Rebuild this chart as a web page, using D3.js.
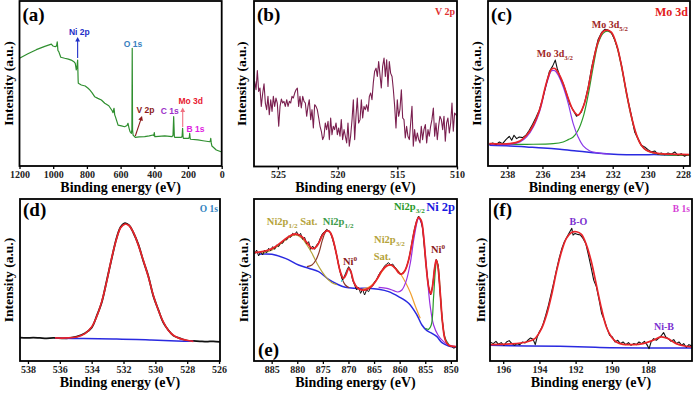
<!DOCTYPE html>
<html>
<head>
<meta charset="utf-8">
<script src="https://cdn.jsdelivr.net/npm/d3@7/dist/d3.min.js"></script>
<style>
body { margin: 0; background: #fff; }
text { font-family: "Liberation Serif", "Times New Roman", serif; font-weight: bold; }
text.sans { font-family: "Liberation Sans", Arial, sans-serif; font-weight: bold; }
</style>
</head>
<body>
<div id="chart"></div>
<script>
// ---- data: [binding energy (eV), intensity (a.u.)] ----

// (a) survey
var surveyData = [[1200,65.3],[1150,68],[1100,70.5],[1050,72.5],[1011,73.9],[1001,72.7],[988,72.3],[980,72.8],[976,75.2],[972,70],[967,69.3],[955,65.9],[932,65.3],[910,64.8],[893,64.2],[875,63],[869,62.2],[863,58.2],[858,61],[855,64.2],[852,52],[851,50.1],[833,49.1],[810,48.5],[793,47.1],[783,46.1],[770,44.5],[754,42],[735,41],[714,40],[694,38],[670,36.5],[650,33.5],[645,32.3],[639,35],[635,31],[631,29.9],[615,24.8],[595,24.3],[576,23.8],[562,24.5],[556,25.9],[550,23],[544,20.8],[536,19.8],[533,22],[531,71.3],[529,22],[526,18.8],[513,17.4],[490,17.6],[457,17.8],[430,18.3],[408,18.8],[403,18.4],[400,20.2],[397,17.8],[394,17.8],[338,18.2],[295,17.8],[289,18.5],[285,29.9],[281,17.8],[279,17.4],[240,17.4],[235,18],[232,22.8],[229,17.2],[226,16.8],[196,16.8],[192,17.5],[190,19.8],[187,16.5],[184,16.2],[141,15.8],[111,15.3],[71,14.7],[67,15.5],[65,16.8],[62,14],[58,12.1],[32,9.7],[0,8.5]];
var surveyTicks = [1200, 1000, 800, 600, 400, 200, 0];

// (b) V 2p
var vData = [[526.94,256],[526.83,231],[526.72,289],[526.61,226],[526.50,236],[526.39,181],[526.27,221],[526.16,249],[526.05,191],[525.94,171],
[525.83,211],[525.72,156],[525.60,201],[525.49,166],[525.38,211],[525.27,181],[525.16,206],[525.05,191],[524.93,121],[524.82,181],
[524.71,203],[524.60,191],[524.49,196],[524.38,181],[524.26,201],[524.15,181],[524.04,196],[523.93,191],[523.82,211],[523.71,206],
[523.59,221],[523.48,231],[523.37,236],[523.26,181],[523.15,211],[523.04,176],[522.92,211],[522.81,196],[522.70,191],[522.59,151],
[522.48,181],[522.37,201],[522.25,141],[522.14,171],[522.03,116],[521.92,186],[521.81,181],[521.70,171],[521.58,146],[521.47,121],
[521.36,106],[521.25,81],[521.14,91],[521.03,131],[520.92,111],[520.80,136],[520.69,81],[520.58,146],[520.47,96],[520.36,121],
[520.25,111],[520.13,131],[520.02,96],[519.91,116],[519.80,91],[519.69,141],[519.58,81],[519.46,111],[519.35,91],[519.24,71],
[519.13,131],[519.02,61],[518.91,91],[518.79,141],[518.68,201],[518.57,81],[518.46,151],[518.35,206],[518.24,131],[518.12,141],
[518.01,201],[517.90,146],[517.79,181],[517.68,171],[517.57,186],[517.45,166],[517.34,211],[517.23,221],[517.12,201],[517.01,251],
[516.90,286],[516.78,296],[516.67,271],[516.56,316],[516.45,276],[516.34,236],[516.23,301],[516.11,326],[516.00,271],[515.89,321],
[515.78,241],[515.67,316],[515.56,281],[515.44,271],[515.33,231],[515.22,181],[515.11,116],[515.00,201],[514.89,151],[514.78,171],
[514.66,231],[514.55,146],[514.44,141],[514.33,86],[514.22,121],[514.11,91],[513.99,81],[513.88,131],[513.77,181],[513.66,61],
[513.55,111],[513.44,76],[513.32,101],[513.21,81],[513.10,71],[512.99,121],[512.88,81],[512.77,111],[512.65,126],[512.54,71],
[512.43,111],[512.32,91],[512.21,121],[512.10,141],[511.98,176],[511.87,91],[511.76,131],[511.65,81],[511.54,121],[511.43,151],
[511.31,141],[511.20,111],[511.09,151],[510.98,76],[510.87,131],[510.76,146],[510.64,101],[510.53,131],[510.42,191],[510.31,106],
[510.20,161],[510.09,156],[510.00,151]];
var vTicks = [525, 520, 515, 510];

// (c) Mo 3d
var moData = [[239.02,65],[238.83,69],[238.64,64],[238.45,72],[238.27,67],[238.08,79],[237.89,89],[237.75,77],[237.62,92],[237.47,82],[237.32,87],[237.13,85],[236.94,92],[236.75,107],[236.56,125],[236.37,145],[236.18,167],[235.99,202],[235.80,242],[235.61,282],[235.42,299],[235.27,317],[235.16,292],[235.01,269],[234.82,247],[234.63,217],[234.44,185],[234.25,167],[234.06,149],[233.91,155],[233.78,162],[233.59,192],[233.40,235],[233.21,292],[233.02,337],[232.83,379],[232.64,399],[232.45,409],[232.26,407],[232.07,399],[231.88,377],[231.69,347],[231.50,302],[231.31,247],[231.13,197],[230.94,152],[230.75,102],[230.56,82],[230.37,62],[230.18,57],[229.99,49],[229.80,42],[229.61,45],[229.42,35],[229.23,39],[229.04,34],[228.85,39],[228.66,35],[228.47,42],[228.28,32],[228.10,37],[227.91,29],[227.72,35]];
var moFit = [[239.02,67],[237.85,67],[237.28,75],[236.90,92],[236.52,122],[236.14,172],[235.86,232],[235.67,267],[235.48,290],[235.29,292],[235.10,279],[234.82,247],[234.53,202],[234.25,167],[233.97,152],[233.68,177],[233.40,232],[233.11,312],[232.83,372],[232.55,402],[232.32,407],[232.07,400],[231.79,365],[231.50,300],[231.22,220],[230.94,149],[230.65,94],[230.37,62],[230.08,47],[229.70,40],[229.33,37],[228.38,35],[227.62,34]];
var mo32 = [[239.02,65],[237.85,65],[237.28,72],[236.90,87],[236.52,117],[236.14,167],[235.86,227],[235.67,262],[235.48,285],[235.29,285],[235.10,272],[234.82,237],[234.53,187],[234.25,127],[233.97,87],[233.68,60],[233.30,45],[232.92,40],[232.55,37],[232.17,36]];
var mo52 = [[239.02,65],[236.90,65],[235.39,67],[234.82,72],[234.53,79],[234.25,87],[233.97,107],[233.68,147],[233.40,212],[233.11,297],[232.83,367],[232.55,397],[232.32,404],[232.07,397],[231.79,362],[231.50,297],[231.22,217],[230.94,147],[230.65,92],[230.37,62],[230.08,47],[229.70,39],[229.33,35],[227.62,32]];
var moBg = [[239.02,62],[237.85,60],[236.90,57],[235.95,54],[235.01,50],[234.06,45],[233.11,40],[232.17,36],[231.22,34],[230.27,34],[229.33,34],[228.38,33],[227.62,32]];
var moTicks = [238, 236, 234, 232, 230, 228];

// (d) O 1s
var oData = [[538.50,70],[538.08,69],[537.67,70],[537.25,69],[536.83,68],[536.41,69],[535.57,68],[534.94,73],[534.42,83],[534.00,100],[533.69,134],[533.37,175],[533.06,239],[532.75,305],[532.43,369],[532.18,401],[531.91,413],[531.64,406],[531.38,384],[531.07,349],[530.76,300],[530.44,254],[530.13,195],[529.81,153],[529.50,115],[529.19,93],[528.87,76],[528.45,68],[528.03,61],[527.61,60],[527.20,59],[526.78,58],[526.36,59],[525.94,57]];
var oFit = [[536.30,69],[535.57,69],[534.94,72],[534.42,82],[534.00,102],[533.69,132],[533.37,177],[533.06,237],[532.75,307],[532.43,367],[532.18,399],[531.91,410],[531.64,405],[531.38,385],[531.07,347],[530.76,302],[530.44,252],[530.13,197],[529.81,152],[529.50,117],[529.19,92],[528.87,77],[528.45,67],[528.03,62],[527.61,59]];
var oBg = [[536.30,69],[534.52,67],[532.43,66],[530.34,63],[528.66,60],[527.61,59]];
var oTicks = [538, 536, 534, 532, 530, 528, 526];

// (e) Ni 2p
var niData = [[888.33,321],[887.94,333],[887.55,315],[887.16,328],[886.77,318],[886.38,333],[885.99,325],[885.59,338],[885.20,331],[884.81,343],[884.42,335],[884.03,348],[883.64,343],[883.25,355],[882.86,353],[882.47,365],[882.08,363],[881.69,375],[881.30,371],[880.91,383],[880.52,378],[880.13,388],[879.74,375],[879.35,383],[878.95,365],[878.56,371],[878.17,351],[877.78,358],[877.39,335],[877.00,345],[876.61,335],[876.22,348],[875.83,355],[875.44,371],[875.05,383],[874.66,388],[874.27,395],[873.88,391],[873.49,383],[873.10,365],[872.71,343],[872.31,318],[871.92,288],[871.53,263],[871.14,243],[870.75,255],[870.36,268],[869.97,283],[869.58,273],[869.19,243],[868.80,228],[868.41,213],[868.02,221],[867.63,203],[867.24,215],[866.85,198],[866.46,213],[866.06,208],[865.67,221],[865.28,225],[864.89,238],[864.50,245],[864.11,258],[863.72,268],[863.33,275],[862.94,285],[862.55,291],[862.16,295],[861.77,288],[861.38,291],[860.99,283],[860.60,275],[860.21,268],[859.82,258],[859.42,265],[859.03,268],[858.64,283],[858.25,303],[857.86,333],[857.47,368],[857.08,398],[856.69,421],[856.30,435],[855.91,425],[855.52,398],[855.13,333],[854.74,273],[854.35,223],[853.96,198],[853.57,225],[853.18,278],[852.85,305],[852.52,288],[852.13,213],[851.74,133],[851.35,78],[850.96,58],[850.57,48],[850.18,45],[849.79,43],[849.40,38],[849.01,43]];
var niFit = [[888.33,325],[886.90,328],[885.59,333],[884.29,343],[882.99,358],[881.69,373],[880.39,381],[879.09,373],[878.11,355],[877.13,338],[876.48,340],[875.83,353],[875.05,378],[874.20,391],[873.55,385],[872.90,358],[872.25,313],[871.60,268],[870.95,248],[870.43,261],[869.97,278],[869.52,268],[869.00,238],[868.34,221],[867.37,213],[866.39,215],[865.41,225],[864.44,245],[863.46,271],[862.48,286],[861.64,288],[860.86,278],[860.08,263],[859.56,261],[858.90,273],[858.25,303],[857.60,353],[856.95,403],[856.30,431],[855.78,421],[855.32,373],[854.87,293],[854.35,223],[853.89,201],[853.50,233],[853.18,278],[852.85,303],[852.52,283],[852.07,203],[851.61,113],[851.09,63],[850.44,48],[849.01,43]];
var niBg = [[887.55,320],[886.90,321],[884.94,320],[882.34,308],[879.74,288],[877.78,278],[875.83,268],[873.88,245],[872.25,231],[870.62,221],[868.67,218],[866.06,218],[864.11,215],[862.16,208],[860.21,193],[858.25,173],[856.63,138],[855.65,108],[854.67,91],[853.69,83],[852.72,73],[851.74,55],[850.44,45],[849.01,41]];
var niSat12 = [[886.90,323],[884.94,333],[882.99,355],[881.69,370],[880.39,378],[879.09,368],[878.11,348],[877.13,323],[876.16,293],[875.18,268],[874.20,248],[873.23,235],[872.25,229]];
var niP12 = [[878.11,283],[877.13,288],[876.35,303],[875.70,328],[875.05,365],[874.40,388],[873.88,391],[873.23,375],[872.58,338],[871.92,288],[871.27,248],[870.62,228],[869.84,220]];
var niMetal1 = [[871.40,238],[870.75,255],[870.10,278],[869.58,268],[869.00,238],[868.34,221]];
var niSat32 = [[867.37,215],[866.06,221],[864.76,238],[863.46,268],[862.48,285],[861.64,287],[860.73,278],[859.69,258],[858.77,233],[857.86,203],[856.95,165],[855.98,128]];
var niP32 = [[864.11,221],[862.48,218],[861.18,211],[860.34,207],[859.56,213],[858.77,238],[857.93,293],[857.15,373],[856.30,428],[855.65,408],[855.13,343],[854.61,253],[854.02,163],[853.37,108],[852.52,78],[851.42,58],[850.12,46],[849.01,43]];
var niMetal2 = [[855.00,98],[854.35,95],[853.83,108],[853.37,193],[853.05,268],[852.79,301],[852.46,283],[852.07,203],[851.61,113],[851.09,68],[850.44,51]];
var niTicks = [885, 880, 875, 870, 865, 860, 855, 850];

// (f) B 1s
var bData = [[196.73,57],[196.55,52],[196.40,59],[196.26,50],[196.11,55],[195.96,47],[195.82,57],[195.67,61],[195.52,52],[195.37,47],[195.23,52],[195.08,49],[194.93,57],[194.79,54],[194.64,62],[194.49,69],[194.35,65],[194.23,49],[194.12,72],[194.01,87],[193.90,97],[193.79,112],[193.65,137],[193.50,167],[193.35,202],[193.20,237],[193.06,272],[192.91,307],[192.76,337],[192.62,357],[192.47,372],[192.32,387],[192.21,397],[192.14,377],[192.03,382],[191.88,379],[191.73,377],[191.59,367],[191.44,352],[191.29,317],[191.15,282],[191.00,242],[190.85,222],[190.70,182],[190.56,142],[190.41,122],[190.26,97],[190.12,77],[189.97,72],[189.82,57],[189.67,62],[189.53,52],[189.38,57],[189.23,49],[189.08,55],[188.94,47],[188.79,52],[188.64,49],[188.50,57],[188.35,52],[188.20,59],[188.06,49],[187.94,37],[187.83,57],[187.69,67],[187.54,62],[187.39,69],[187.25,77],[187.14,85],[187.02,72],[186.88,67],[186.73,59],[186.58,64],[186.44,52],[186.29,57],[186.14,47],[186.03,52],[185.89,41],[185.74,49],[185.57,45]];
var bFit = [[196.73,49],[195.63,51],[194.71,57],[194.25,67],[193.88,97],[193.61,137],[193.33,197],[193.06,267],[192.78,327],[192.51,367],[192.23,385],[191.95,387],[191.68,379],[191.40,347],[191.13,297],[190.85,227],[190.57,157],[190.30,102],[190.02,72],[189.75,57],[189.38,50],[188.83,49],[188.28,52],[187.72,62],[187.27,72],[186.90,67],[186.44,52],[185.98,45],[185.57,42]];
var bBg = [[196.73,47],[194.71,45],[192.87,44],[191.40,42],[190.11,40],[188.28,39],[185.57,39]];
var bTicks = [196, 194, 192, 190, 188];

// ---- drawing ----
var svg = d3.select("#chart").append("svg")
    .attr("width", 696)
    .attr("height", 393);

var lineLayer = svg.append("g");
var topLayer = svg.append("g");

function makePanel(id, l, r, t, b, xd, yd, ticks, yLabX, titleY) {
    var x = d3.scaleLinear().domain(xd).range([l, r]);
    var y = d3.scaleLinear().domain(yd).range([b, t]);

    svg.append("clipPath").attr("id", "clip-" + id)
      .append("rect")
        .attr("x", l).attr("y", t)
        .attr("width", r - l).attr("height", b - t);

    var g = lineLayer.append("g").attr("clip-path", "url(#clip-" + id + ")");

    var ax = topLayer.append("g")
        .attr("transform", "translate(0," + b + ")")
        .call(d3.axisBottom(x).tickValues(ticks).tickFormat(d3.format("d"))
            .tickSize(3).tickSizeOuter(0).tickPadding(1.5));
    ax.select(".domain").remove();
    ax.selectAll("line").attr("stroke", "#000").attr("stroke-width", 1.3);
    ax.selectAll("text")
        .attr("font-size", 10)
        .attr("fill", "#222")
        .style("font-family", "'Liberation Serif', serif")
        .style("font-weight", "bold");

    topLayer.append("rect")
        .attr("x", l).attr("y", t)
        .attr("width", r - l).attr("height", b - t)
        .attr("fill", "none")
        .attr("stroke", "#000")
        .attr("stroke-width", 1.8);

    topLayer.append("text")
        .attr("x", (l + r) / 2).attr("y", titleY)
        .attr("text-anchor", "middle")
        .attr("font-size", 14)
        .text("Binding energy (eV)");

    topLayer.append("text")
        .attr("transform", "translate(" + yLabX + "," + (t + b) / 2 + ") rotate(-90)")
        .attr("text-anchor", "middle")
        .attr("font-size", 13.5)
        .text("Intensity (a.u.)");

    return {x: x, y: y, g: g, l: l, r: r, t: t, b: b};
}

function plotLine(P, data, color, w, smooth) {
    P.g.append("path")
        .datum(data)
        .attr("fill", "none")
        .attr("stroke", color)
        .attr("stroke-width", w)
        .attr("stroke-linejoin", "round")
        .attr("d", d3.line()
            .curve(smooth ? d3.curveCatmullRom : d3.curveLinear)
            .x(function(d) { return P.x(d[0]); })
            .y(function(d) { return P.y(d[1]); })
        );
}

// label made of parts: [text, "" | "sub" | "sup"]
function label(px, py, parts, color, size, anchor, cls) {
    var t = topLayer.append("text")
        .attr("x", px).attr("y", py)
        .attr("fill", color)
        .attr("font-size", size)
        .attr("text-anchor", anchor || "middle");
    if (cls) t.attr("class", cls);
    var shift = 0;
    parts.forEach(function(s) {
        var ts = t.append("tspan").text(s[0]);
        var target = s[1] == "sub" ? size * 0.3 : (s[1] == "sup" ? -size * 0.4 : 0);
        if (target != shift) ts.attr("dy", target - shift);
        if (s[1]) ts.attr("font-size", size * 0.68);
        shift = target;
    });
    return t;
}

function panelLetter(P, txt, dy) {
    topLayer.append("text")
        .attr("x", P.l + 3).attr("y", dy)
        .attr("font-size", 19)
        .text(txt);
}

function corner(P, txt, color, size, dy) {
    label(P.r - 2, P.t + dy, [[txt, ""]], color, size, "end");
}

function arrow(P, be0, v0, be1, v1, color) {
    var x0 = P.x(be0), y0 = P.y(v0), x1 = P.x(be1), y1 = P.y(v1);
    var a = Math.atan2(y1 - y0, x1 - x0), h = 4.5, s = 2.4;
    topLayer.append("line")
        .attr("x1", x0).attr("y1", y0)
        .attr("x2", x1 - Math.cos(a) * h * 0.8).attr("y2", y1 - Math.sin(a) * h * 0.8)
        .attr("stroke", color).attr("stroke-width", 1.1);
    var bx = x1 - Math.cos(a) * h, by = y1 - Math.sin(a) * h;
    topLayer.append("path")
        .attr("d", "M" + x1 + "," + y1 +
            "L" + (bx - Math.sin(a) * s) + "," + (by + Math.cos(a) * s) +
            "L" + (bx + Math.sin(a) * s) + "," + (by - Math.cos(a) * s) + "Z")
        .attr("fill", color);
}

// (a)
var A = makePanel("a", 19.5, 221.7, 1, 166, [1200, 0], [0, 100], surveyTicks, 13, 192);
plotLine(A, surveyData, "#2f8f2f", 1.2, false);
panelLetter(A, "(a)", 21);
label(A.x(845), A.y(79.4), [["Ni 2p", ""]], "#1f2fc8", 8.5, "middle", "sans");
arrow(A, 855, 65.5, 855, 78.2, "#1f2fc8");
label(A.x(526), A.y(72.1), [["O 1s", ""]], "#3a7fc0", 8.5, "middle", "sans");
label(A.x(453), A.y(32.1), [["V 2p", ""]], "#8b1a1a", 8.5, "middle", "sans");
arrow(A, 512.7, 18.2, 472.9, 30.3, "#8b1a1a");
label(A.x(308), A.y(31.5), [["C 1s", ""]], "#9b30c8", 8.5, "middle", "sans");
label(A.x(184), A.y(37.6), [["Mo 3d", ""]], "#e82030", 8.5, "middle", "sans");
arrow(A, 231.4, 23.6, 231.4, 35.5, "#f07080");
label(A.x(156), A.y(20.6), [["B 1s", ""]], "#e020e0", 8.5, "middle", "sans");

// (b)
var B = makePanel("b", 254, 457, 1, 166.5, [527, 510], [0, 498], vTicks, 246, 192);
plotLine(B, vData, "#7a1f4f", 1.1, false);
panelLetter(B, "(b)", 21);
corner(B, "V 2p", "#e03030", 10, 14);

// (c)
var C = makePanel("c", 488, 690, 1, 166, [239.1, 227.6], [0, 494], moTicks, 481, 192);
plotLine(C, moBg, "#2a2ae0", 1.5, true);
plotLine(C, mo52, "#2a9a2a", 1.2, true);
plotLine(C, mo32, "#8a3ae8", 1.2, true);
plotLine(C, moData, "#111", 1.1, false);
plotLine(C, moFit, "#e8242a", 1.7, true);
panelLetter(C, "(c)", 21);
corner(C, "Mo 3d", "#e21b1b", 12, 15);
label(C.x(235.29), C.y(326), [["Mo 3d", ""], ["3/2", "sub"]], "#a02828", 10, "middle");
label(C.x(232.16), C.y(413), [["Mo 3d", ""], ["5/2", "sub"]], "#a02828", 10, "middle");

// (d)
var D = makePanel("d", 20, 220, 199, 361, [538.5, 525.94], [0, 485], oTicks, 13, 387);
plotLine(D, oData, "#111", 1.8, true);
plotLine(D, oBg, "#2a2ae0", 1.5, true);
plotLine(D, oFit, "#e8242a", 1.7, true);
panelLetter(D, "(d)", 216);
corner(D, "O 1s", "#2e7fc0", 9.5, 13);

// (e)
var E = makePanel("e", 254, 457, 199, 361, [888.45, 848.8], [0, 486], niTicks, 248, 387);
plotLine(E, niBg, "#2a2ae0", 1.5, true);
plotLine(E, niSat12, "#b5a33a", 1.2, true);
plotLine(E, niP12, "#8b3a2a", 1.2, true);
plotLine(E, niMetal1, "#30c0c8", 1.2, true);
plotLine(E, niSat32, "#f0a030", 1.2, true);
plotLine(E, niP32, "#9a30e0", 1.2, true);
plotLine(E, niMetal2, "#2a9a2a", 1.2, true);
plotLine(E, niData, "#111", 1.0, false);
plotLine(E, niFit, "#e8242a", 1.8, true);
topLayer.append("text").attr("x", E.l + 4).attr("y", E.b - 5).attr("font-size", 19).text("(e)");
corner(E, "Ni 2p", "#1a1ae0", 12.5, 12);
label(E.x(881), E.y(408), [["Ni2p", ""], ["1/2", "sub"], [" Sat.", ""]], "#b5a33a", 10.5, "middle");
label(E.x(872), E.y(408), [["Ni2p", ""], ["1/2", "sub"]], "#3c9b4a", 10.5, "middle");
label(E.x(869.7), E.y(288), [["Ni", ""], ["0", "sup"]], "#8b1c1c", 10.5, "middle");
label(E.x(862), E.y(354), [["Ni2p", ""], ["3/2", "sub"]], "#b5a33a", 10.5, "middle");
label(E.x(863.4), E.y(303), [["Sat.", ""]], "#b5a33a", 10.5, "middle");
label(E.x(858.1), E.y(453), [["Ni2p", ""], ["3/2", "sub"]], "#2a9a2a", 10.5, "middle");
label(E.x(852.5), E.y(324), [["Ni", ""], ["0", "sup"]], "#8b1c1c", 10.5, "middle");

// (f)
var F = makePanel("f", 490, 692, 199, 361, [196.73, 185.57], [0, 485], bTicks, 484.5, 387);
plotLine(F, bBg, "#2a2ae0", 1.5, true);
plotLine(F, bData, "#111", 1.1, false);
plotLine(F, bFit, "#e8242a", 1.7, true);
panelLetter(F, "(f)", 216);
corner(F, "B 1s", "#d63fd6", 9.5, 13);
label(F.x(191.84), F.y(407), [["B-O", ""]], "#7a2fd0", 10, "middle");
label(F.x(187.12), F.y(93), [["Ni-B", ""]], "#7a2fd0", 10, "middle");
</script>
</body>
</html>
